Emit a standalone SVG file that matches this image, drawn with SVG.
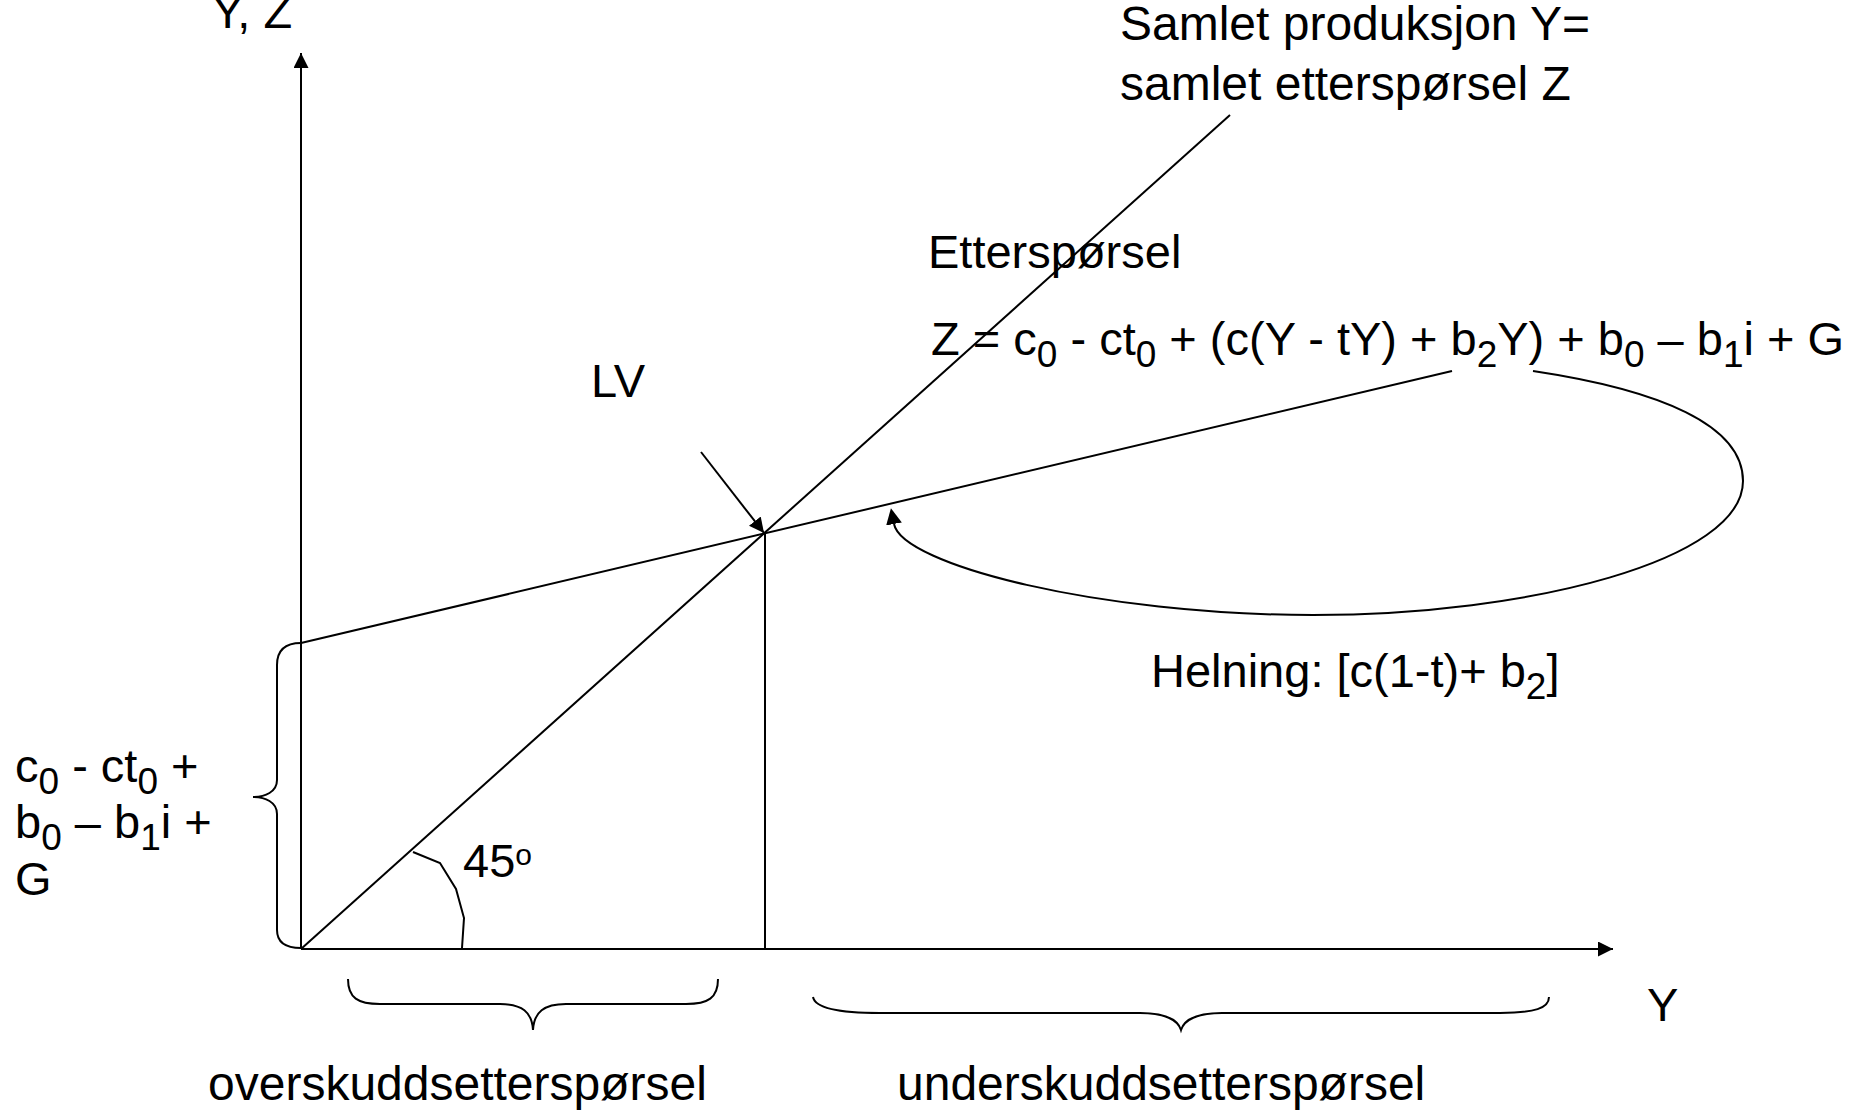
<svg xmlns="http://www.w3.org/2000/svg" width="1863" height="1110" viewBox="0 0 1863 1110">
<style>
text{font-family:"Liberation Sans",Arial,sans-serif;font-size:47px;fill:#000}
.ln{stroke:#000;stroke-width:2;fill:none}
.sub{font-size:37px}
.big{font-size:48px}
</style>
<defs>
<marker id="ah" viewBox="0 0 15 15" markerWidth="15" markerHeight="15" markerUnits="userSpaceOnUse" refX="15" refY="7.5" orient="auto"><path d="M0,0 L15,7.5 L0,15 z" fill="#000"/></marker>
<marker id="ahs" viewBox="0 0 16 16" markerWidth="16" markerHeight="16" markerUnits="userSpaceOnUse" refX="0" refY="8" orient="auto"><path d="M0,0 L16,8 L0,16 z" fill="#000"/></marker>
</defs>
<rect width="1863" height="1110" fill="#fff"/>
<g id="connectors">
<line class="ln" x1="301" y1="949" x2="301" y2="53" marker-end="url(#ah)"/>
<line class="ln" x1="301" y1="949" x2="1613" y2="949" marker-end="url(#ah)"/>
<line class="ln" x1="301" y1="949" x2="1230" y2="115"/>
<line class="ln" x1="301" y1="643" x2="1452" y2="371"/>
<line class="ln" x1="765" y1="533" x2="765" y2="949"/>
<line class="ln" x1="701" y1="452" x2="764" y2="533" marker-end="url(#ah)"/>
<path class="ln" d="M1533 371 C1660 390 1743 425 1743 481 C1743 560 1530 615 1313 615 C1100 615 902 565 894 524" marker-end="url(#ahs)"/>
<polyline class="ln" points="413,852 440,863 456,889 464,918 462,948"/>
</g>
<g id="brace-left"><path class="ln" d="M301 643 C285 643 277 650 277 665 L277 780 C277 792 265 797 253 797 C265 797 277 802 277 814 L277 930 C277 942 285 948 301 948"/></g>
<g id="brace-over"><path class="ln" d="M348 979 C348 998 358 1004 380 1004 L500 1004 C522 1004 532 1012 533 1030 C534 1012 544 1004 566 1004 L686 1004 C708 1004 718 998 718 979"/></g>
<g id="brace-under"><path class="ln" d="M813 997 C815 1008 840 1013 880 1013 L1140 1013 C1165 1013 1178 1020 1181 1030 C1184 1020 1197 1013 1222 1013 L1500 1013 C1535 1013 1549 1008 1549 997"/></g>
<g id="label-yz"><text x="212" y="28">Y, Z</text></g>
<g id="label-samlet"><text class="big" x="1120" y="40">Samlet produksjon Y=</text><text class="big" x="1120" y="100">samlet etterspørsel Z</text></g>
<g id="label-ettersporsel"><text x="928" y="268">Etterspørsel</text></g>
<g id="label-formula"><text x="931" y="355">Z = c<tspan class="sub" dy="12">0</tspan><tspan dy="-12"> - ct</tspan><tspan class="sub" dy="12">0</tspan><tspan dy="-12"> + (c(Y - tY) + b</tspan><tspan class="sub" dy="12">2</tspan><tspan dy="-12">Y) + b</tspan><tspan class="sub" dy="12">0</tspan><tspan dy="-12"> – b</tspan><tspan class="sub" dy="12">1</tspan><tspan dy="-12">i + G</tspan></text></g>
<g id="label-lv"><text x="591" y="397">LV</text></g>
<g id="label-helning"><text x="1151" y="687">Helning: [c(1-t)+ b<tspan class="sub" dy="12">2</tspan><tspan dy="-12">]</tspan></text></g>
<g id="label-intercept"><text x="15" y="782">c<tspan class="sub" dy="12">0</tspan><tspan dy="-12"> - ct</tspan><tspan class="sub" dy="12">0</tspan><tspan dy="-12"> +</tspan></text><text x="15" y="838">b<tspan class="sub" dy="12">0</tspan><tspan dy="-12"> – b</tspan><tspan class="sub" dy="12">1</tspan><tspan dy="-12">i +</tspan></text><text x="15" y="895">G</text></g>
<g id="label-45"><text x="463" y="877">45<tspan style="font-size:30px" dy="-12">o</tspan></text></g>
<g id="label-y"><text x="1647" y="1021">Y</text></g>
<g id="label-over"><text class="big" x="208" y="1100">overskuddsetterspørsel</text></g>
<g id="label-under"><text class="big" x="897" y="1100">underskuddsetterspørsel</text></g>
</svg>
